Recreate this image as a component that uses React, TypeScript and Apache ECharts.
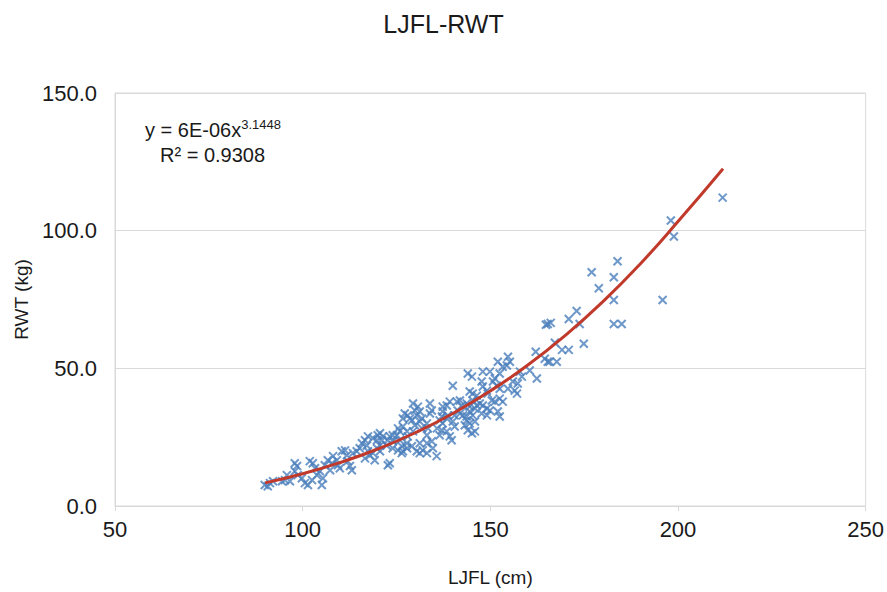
import React, { useEffect, useRef } from "react";
import * as echarts from "echarts";

const ljfl: number[] = [
  89.9, 90.7, 91.3, 92.1, 94.5, 95.3, 95.8, 96.6, 97.9, 98.5, 98.7, 97.9, 99.8, 100.6, 101.4, 102.5,
  101.9, 102.7, 103.3, 103.8, 104.6, 105.4, 105.1, 105.9, 106.7, 107.8, 107.3, 108.1, 109.1, 109.4,
  109.9, 110.4, 111.3, 111.8, 112.0, 112.6, 113.1, 113.4, 114.4, 115.2, 115.8, 116.6, 117.1, 117.4,
  118.7, 119.2, 120.0, 120.6, 121.1, 121.4, 122.4, 122.7, 119.8, 120.6, 122.7, 124.0, 125.1, 125.4,
  125.9, 126.7, 127.8, 128.0, 126.4, 126.7, 127.8, 129.1, 130.4, 131.2, 129.4, 129.9, 130.7, 133.9,
  134.4, 129.1, 129.9, 131.2, 131.8, 133.1, 134.4, 134.7, 135.8, 117.4, 118.7, 119.8, 123.2, 124.0,
  125.9, 129.4, 126.7, 127.2, 128.0, 128.6, 130.4, 131.2, 131.8, 133.9, 137.3, 137.1, 138.4, 140.0,
  140.5, 137.1, 136.5, 138.4, 139.2, 139.7, 133.1, 133.4, 120.6, 124.0, 125.4, 127.8, 131.2, 133.1,
  132.0, 133.1, 126.4, 123.2, 135.7, 117.9, 116.6, 144.5, 145.3, 146.4, 141.1, 142.4, 143.7, 144.5,
  142.7, 143.7, 144.5, 145.9, 140.0, 144.0, 145.1, 148.0, 149.9, 151.2, 152.5, 153.3, 154.4, 152.0,
  154.7, 155.2, 150.7, 147.7, 148.0, 151.7, 152.5, 156.0, 157.3, 154.7, 156.5, 157.1, 149.1, 149.3,
  141.9, 139.2, 138.4, 137.3, 145.3, 146.4, 147.2, 145.9, 148.0, 149.1, 149.9, 150.4, 151.2, 152.5,
  153.3, 147.7, 149.1, 152.0, 152.5, 144.5, 145.3, 143.7, 141.3, 141.9, 140.5, 138.7, 136.5, 137.3,
  143.2, 144.0, 145.9, 145.1, 160.5, 162.4, 158.4, 165.3, 165.8, 167.7, 162.1, 164.5, 167.2, 169.1,
  170.9, 174.9, 165.3, 166.1, 164.8, 173.8, 182.9, 185.0, 170.9, 173.0, 182.9, 195.9, 178.9, 182.9,
  177.0, 183.9, 198.9, 198.1, 211.9, 157.9,
];

const rwt: number[] = [
  7.6, 7.2, 8.3, 9.0, 9.0, 9.4, 11.2, 9.0, 12.6, 14.5, 11.2, 15.5, 10.1, 8.3, 7.6, 9.4,
  16.3, 15.5, 13.7, 11.2, 12.6, 10.1, 7.6, 14.8, 16.6, 15.5, 13.0, 18.1, 16.6, 14.8,
  13.7, 19.9, 20.2, 18.4, 16.3, 14.5, 13.0, 19.2, 19.9, 21.0, 22.8, 23.9, 22.0, 19.9,
  19.2, 16.6, 25.7, 26.4, 23.9, 25.3, 22.0, 23.9, 21.0, 19.9, 14.8, 23.5, 25.7, 28.2,
  27.1, 28.9, 27.1, 25.3, 21.7, 19.9, 21.0, 21.7, 19.9, 19.2, 37.2, 34.7, 36.1, 37.2,
  34.7, 31.1, 29.3, 30.7, 28.2, 25.7, 23.5, 21.0, 28.2, 25.3, 24.6, 23.9, 25.3, 25.7,
  23.9, 27.1, 31.8, 33.6, 32.9, 31.8, 32.9, 34.3, 31.8, 33.6, 34.3, 32.5, 31.8, 30.7,
  28.9, 27.5, 25.7, 27.1, 25.3, 23.9, 30.0, 28.2, 22.0, 21.0, 20.2, 22.8, 22.8, 22.8,
  20.2, 19.2, 19.2, 15.5, 18.1, 18.4, 17.3, 41.6, 40.8, 40.1, 37.9, 36.5, 37.2, 36.1,
  32.9, 31.1, 30.0, 30.7, 43.7, 48.1, 47.0, 48.8, 48.8, 46.3, 48.1, 50.6, 51.0, 52.4,
  54.2, 52.4, 45.2, 45.2, 43.4, 43.7, 42.6, 45.2, 44.5, 42.6, 41.9, 40.8, 41.9, 40.8,
  38.3, 37.9, 36.5, 36.1, 38.3, 36.5, 37.2, 35.4, 36.5, 35.4, 34.7, 38.3, 37.9, 39.0,
  37.9, 33.6, 32.9, 34.3, 32.5, 34.3, 32.9, 32.5, 34.7, 33.6, 32.9, 32.9, 31.1, 30.0,
  29.3, 27.5, 27.1, 26.4, 49.2, 46.3, 47.0, 52.4, 52.4, 52.4, 56.0, 53.5, 59.3, 56.7,
  56.7, 58.9, 66.1, 66.5, 65.8, 66.1, 66.1, 66.1, 67.9, 70.8, 74.8, 74.8, 79.1, 83.1,
  84.9, 88.9, 97.9, 103.7, 112.0, 48.8,
];

// Power trendline y = 6E-06 x^3.1448 at these lengths
const trendX: number[] = [90, 100, 110, 120, 130, 140, 150, 160, 170, 180, 190, 200, 212];
const trendY: number[] = [8.4, 11.7, 15.8, 20.7, 26.6, 33.6, 41.8, 51.2, 62.0, 74.2, 88.0, 103.3, 122.5];

const xTicks: number[] = [50, 100, 150, 200, 250];
const yTicks: number[] = [0, 50, 100, 150];

const FONT = "'Liberation Sans Narrow', 'Liberation Sans', Arial, sans-serif";

export default function App() {
  const ref = useRef<HTMLDivElement>(null);
  useEffect(() => {
    if (!ref.current) return;
    const chart = echarts.init(ref.current, undefined, { renderer: "svg" });
    const pts = ljfl.map((x, i) => [x, rwt[i]]);
    const trend = trendX.map((x, i) => [x, trendY[i]]);
    chart.setOption({
      animation: false,
      backgroundColor: "#ffffff",
      title: {
        text: "LJFL-RWT",
        left: "center",
        top: 6,
        textStyle: { fontFamily: FONT, fontSize: 25, fontWeight: "normal", color: "#1a1a1a" },
      },
      grid: { left: 115, right: 21, top: 93, bottom: 84, containLabel: false,
        show: true, borderColor: "#d9d9d9", borderWidth: 1 },
      xAxis: {
        type: "value",
        min: xTicks[0],
        max: xTicks[xTicks.length - 1],
        interval: 50,
        name: "LJFL (cm)",
        nameLocation: "middle",
        nameGap: 62,
        nameTextStyle: { fontFamily: FONT, fontSize: 19, color: "#1a1a1a" },
        axisLine: { show: true, lineStyle: { color: "#d9d9d9" } },
        axisTick: { show: true, length: 5, lineStyle: { color: "#d9d9d9" } },
        axisLabel: { fontFamily: FONT, fontSize: 22, color: "#1a1a1a", margin: 12 },
        splitLine: { show: false },
      },
      yAxis: {
        type: "value",
        min: yTicks[0],
        max: yTicks[yTicks.length - 1],
        interval: 50,
        name: "RWT (kg)",
        nameLocation: "middle",
        nameGap: 84,
        nameTextStyle: { fontFamily: FONT, fontSize: 19, color: "#1a1a1a" },
        axisLine: { show: true, lineStyle: { color: "#d9d9d9" } },
        axisTick: { show: false },
        axisLabel: {
          fontFamily: FONT, fontSize: 22, color: "#1a1a1a", margin: 18,
          formatter: (v: number) => v.toFixed(1),
        },
        splitLine: { show: true, lineStyle: { color: "#d9d9d9", width: 1 } },
      },
      graphic: [
        {
          type: "text",
          left: 145,
          top: 118,
          style: {
            text: "{b|y = 6E-06x}{s|3.1448}",
            rich: {
              b: { fontFamily: FONT, fontSize: 20, fill: "#1a1a1a" },
              s: { fontFamily: FONT, fontSize: 13, fill: "#1a1a1a", verticalAlign: "top", padding: [0, 0, 10, 0] },
            },
          },
        },
        {
          type: "text",
          left: 160,
          top: 145,
          style: { text: "R² = 0.9308", fontFamily: FONT, fontSize: 20, fill: "#1a1a1a" },
        },
      ],
      series: [
        {
          type: "scatter",
          data: pts,
          symbol: "path://M0 0L10 10M10 0L0 10",
          symbolSize: 8,
          itemStyle: { color: "none", borderColor: "#4a7ebb", borderWidth: 2 },
          z: 2,
        },
        {
          type: "line",
          data: trend,
          smooth: true,
          showSymbol: false,
          symbol: "none",
          lineStyle: { color: "#c0392b", width: 3 },
          z: 3,
        },
      ],
    });
    return () => chart.dispose();
  }, []);
  return <div ref={ref} style={{ width: 887, height: 592, position: "absolute", left: 0, top: 0 }} />;
}
